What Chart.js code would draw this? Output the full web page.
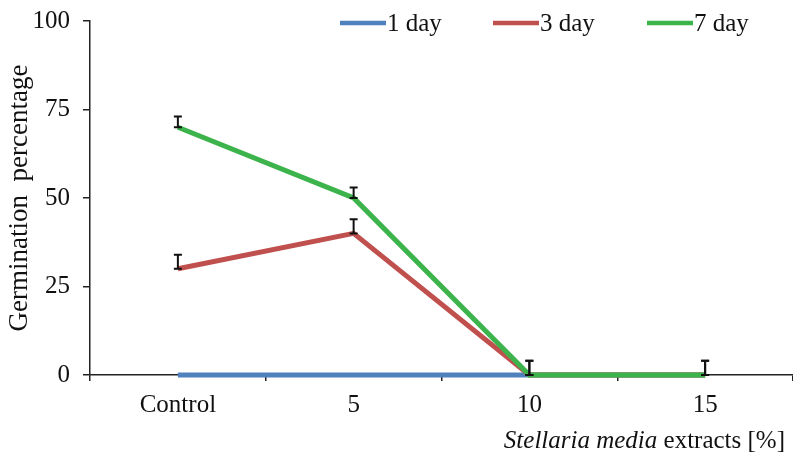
<!DOCTYPE html>
<html>
<head>
<meta charset="utf-8">
<script src="https://cdn.jsdelivr.net/npm/chart.js@4/dist/chart.umd.min.js"></script>
<style>
  html, body { margin: 0; padding: 0; background: #fff; }
  #wrap { width: 793px; height: 456px; }
</style>
</head>
<body>
<div id="wrap"><canvas id="germChart" width="793" height="456"></canvas></div>
<script>
const categories = ['Control', '5', '10', '15'];
const seriesNames = ['1 day', '3 day', '7 day'];
const day1 = [0, 0, 0, 0];
const day3 = [30, 40, 0, 0];
const day7 = [70, 50, 0, 0];
const day3Err = [4, 4, 4, 4];
const day7Err = [3, 3, 4, 4];
const yTicks = [0, 25, 50, 75, 100];

const colors = ['#4f81bd', '#c0504d', '#3cb44b'];
const serif = '"Liberation Serif", "DejaVu Serif", serif';

// upward error bars with caps
const errorBars = {
  id: 'errorBars',
  afterDatasetsDraw(chart) {
    const { ctx } = chart;
    const y = chart.scales.y;
    chart.data.datasets.forEach((ds, i) => {
      if (!ds.errors) return;
      const meta = chart.getDatasetMeta(i);
      meta.data.forEach((pt, j) => {
        const top = y.getPixelForValue(ds.data[j] + ds.errors[j]);
        const bot = y.getPixelForValue(ds.data[j]);
        ctx.save();
        ctx.strokeStyle = '#111';
        ctx.lineWidth = 2;
        ctx.beginPath();
        ctx.moveTo(pt.x, bot);
        ctx.lineTo(pt.x, top);
        ctx.moveTo(pt.x - 4, top);
        ctx.lineTo(pt.x + 4, top);
        ctx.moveTo(pt.x - 4, bot);
        ctx.lineTo(pt.x + 4, bot);
        ctx.stroke();
        ctx.restore();
      });
    });
  },
};

// legend drawn inside the plot + mixed-style x axis title
const extras = {
  id: 'extras',
  afterDraw(chart) {
    const { ctx } = chart;
    const starts = [340, 493, 647];
    ctx.save();
    ctx.font = '25px ' + serif;
    ctx.textBaseline = 'middle';
    seriesNames.forEach((name, i) => {
      const x = starts[i];
      ctx.strokeStyle = colors[i];
      ctx.lineWidth = 4.5;
      ctx.beginPath();
      ctx.moveTo(x, 23);
      ctx.lineTo(x + 46, 23);
      ctx.stroke();
      ctx.fillStyle = '#111';
      ctx.fillText(name, x + 47, 24);
    });

    const right = 785;
    const base = 448;
    ctx.textBaseline = 'alphabetic';
    ctx.font = '25px ' + serif;
    const plain = ' extracts [%]';
    const wPlain = ctx.measureText(plain).width;
    ctx.font = 'italic 25px ' + serif;
    const ital = 'Stellaria media';
    const wItal = ctx.measureText(ital).width;
    ctx.fillText(ital, right - wPlain - wItal, base);
    ctx.font = '25px ' + serif;
    ctx.fillText(plain, right - wPlain, base);
    ctx.restore();
  },
};

const mkSet = (label, data, color, order, errors) => ({
  label,
  data,
  borderColor: color,
  backgroundColor: color,
  borderWidth: 5,
  pointRadius: 0,
  tension: 0,
  clip: false,
  order,
  errors,
});

new Chart(document.getElementById('germChart'), {
  type: 'line',
  data: {
    labels: categories,
    datasets: [
      mkSet(seriesNames[0], day1, colors[0], 2, null),
      mkSet(seriesNames[1], day3, colors[1], 1, day3Err),
      mkSet(seriesNames[2], day7, colors[2], 0, day7Err),
    ],
  },
  options: {
    responsive: false,
    animation: false,
    layout: { padding: { top: 21, right: 0, left: 0, bottom: 0 } },
    plugins: {
      legend: { display: false },
      tooltip: { enabled: false },
    },
    scales: {
      x: {
        offset: true,
        grid: {
          offset: true,
          drawOnChartArea: false,
          drawTicks: true,
          tickLength: 6,
          color: '#222',
          lineWidth: 1.5,
        },
        border: { color: '#222', width: 1.5 },
        ticks: {
          color: '#111',
          padding: 9,
          font: { family: serif, size: 25 },
        },
        afterFit: (scale) => {
          scale.height = 81;
          scale.paddingLeft = 0;
          scale.paddingRight = 0;
        },
      },
      y: {
        min: 0,
        max: 100,
        afterBuildTicks: (scale) => { scale.ticks = yTicks.map((v) => ({ value: v })); },
        grid: {
          drawOnChartArea: false,
          drawTicks: true,
          tickLength: 7,
          color: '#222',
          lineWidth: 1.5,
        },
        border: { color: '#222', width: 1.5 },
        ticks: {
          color: '#111',
          padding: 13,
          font: { family: serif, size: 25 },
        },
        title: {
          display: true,
          text: 'Germination  percentage',
          color: '#111',
          font: { family: serif, size: 27 },
          padding: { top: 4, bottom: 0 },
        },
        afterFit: (scale) => {
          scale.width = 90;
          scale.paddingTop = 0;
          scale.paddingBottom = 0;
        },
      },
    },
  },
  plugins: [errorBars, extras],
});
</script>
</body>
</html>
